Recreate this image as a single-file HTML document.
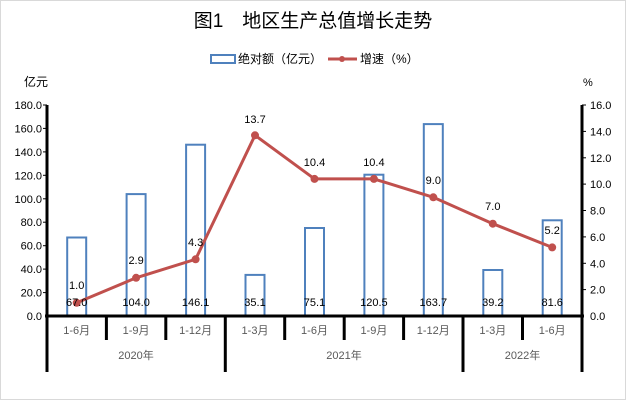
<!DOCTYPE html>
<html><head><meta charset="utf-8"><style>
body{margin:0;background:#fff}
svg{display:block}
text{font-family:"Liberation Sans","Noto Sans CJK SC",sans-serif}
</style></head><body>
<svg width="626" height="400" viewBox="0 0 626 400">
<rect x="0.5" y="0.5" width="625" height="399" fill="#fff" stroke="#d9d9d9"/>
<text x="313" y="27" font-size="19" text-anchor="middle" font-family="'Noto Serif CJK SC',serif" fill="#000">图1　地区生产总值增长走势</text>
<rect x="211" y="55" width="24" height="8" fill="none" stroke="#4f81bd" stroke-width="2"/>
<text x="238" y="63" font-size="12" fill="#000">绝对额（亿元）</text>
<line x1="328" y1="59" x2="357" y2="59" stroke="#c0504d" stroke-width="3"/>
<circle cx="342" cy="59" r="3" fill="#c0504d"/>
<text x="360" y="63" font-size="12" fill="#000">增速（%）</text>
<text x="24" y="86" font-size="12">亿元</text>
<text x="583" y="86" font-size="11">%</text>
<g font-size="11" text-anchor="end" fill="#000">
<text x="42" y="320">0.0</text><text x="42" y="296.6">20.0</text><text x="42" y="273.1">40.0</text><text x="42" y="249.7">60.0</text><text x="42" y="226.2">80.0</text><text x="42" y="202.8">100.0</text><text x="42" y="179.3">120.0</text><text x="42" y="155.9">140.0</text><text x="42" y="132.4">160.0</text><text x="42" y="109">180.0</text>
</g>
<g font-size="11" fill="#000">
<text x="590" y="320">0.0</text><text x="590" y="293.6">2.0</text><text x="590" y="267.3">4.0</text><text x="590" y="240.9">6.0</text><text x="590" y="214.5">8.0</text><text x="590" y="188.1">10.0</text><text x="590" y="161.8">12.0</text><text x="590" y="135.4">14.0</text><text x="590" y="109">16.0</text>
</g>
<g stroke="#000" stroke-width="1">
<line x1="43" y1="105" x2="47" y2="105"/><line x1="43" y1="128.4" x2="47" y2="128.4"/><line x1="43" y1="151.9" x2="47" y2="151.9"/><line x1="43" y1="175.3" x2="47" y2="175.3"/><line x1="43" y1="198.8" x2="47" y2="198.8"/><line x1="43" y1="222.2" x2="47" y2="222.2"/><line x1="43" y1="245.7" x2="47" y2="245.7"/><line x1="43" y1="269.1" x2="47" y2="269.1"/><line x1="43" y1="292.6" x2="47" y2="292.6"/>
<line x1="582" y1="105" x2="586" y2="105"/><line x1="582" y1="131.4" x2="586" y2="131.4"/><line x1="582" y1="157.8" x2="586" y2="157.8"/><line x1="582" y1="184.1" x2="586" y2="184.1"/><line x1="582" y1="210.5" x2="586" y2="210.5"/><line x1="582" y1="236.9" x2="586" y2="236.9"/><line x1="582" y1="263.3" x2="586" y2="263.3"/><line x1="582" y1="289.6" x2="586" y2="289.6"/>
</g>
<g fill="none" stroke="#4f81bd" stroke-width="2">
<rect x="67.2" y="237.5" width="19" height="78.5"/>
<rect x="126.6" y="194.1" width="19" height="121.9"/>
<rect x="186.1" y="144.7" width="19" height="171.3"/>
<rect x="245.5" y="274.9" width="19" height="41.1"/>
<rect x="305" y="228" width="19" height="88"/>
<rect x="364.4" y="174.7" width="19" height="141.3"/>
<rect x="423.8" y="124.1" width="19" height="191.9"/>
<rect x="483.3" y="270" width="19" height="46"/>
<rect x="542.7" y="220.3" width="19" height="95.7"/>
</g>
<g stroke="#000" stroke-width="3" fill="none">
<line x1="47" y1="105" x2="47" y2="372"/>
<line x1="582" y1="105" x2="582" y2="372"/>
<line x1="45" y1="316" x2="584" y2="316"/>
<line x1="106.4" y1="316" x2="106.4" y2="340"/><line x1="165.8" y1="316" x2="165.8" y2="340"/>
<line x1="225.3" y1="316" x2="225.3" y2="372"/>
<line x1="284.7" y1="316" x2="284.7" y2="340"/><line x1="344.2" y1="316" x2="344.2" y2="340"/><line x1="403.6" y1="316" x2="403.6" y2="340"/>
<line x1="463" y1="316" x2="463" y2="372"/>
<line x1="522.5" y1="316" x2="522.5" y2="340"/>
</g>
<polyline points="76.7,302.8 136.1,277.8 195.6,259.3 255,135.3 314.5,178.9 373.9,178.9 433.3,197.3 492.8,223.7 552.2,247.4" fill="none" stroke="#c0504d" stroke-width="3"/>
<g fill="#c0504d">
<circle cx="76.7" cy="302.8" r="4"/><circle cx="136.1" cy="277.8" r="4"/><circle cx="195.6" cy="259.3" r="4"/><circle cx="255" cy="135.3" r="4"/><circle cx="314.5" cy="178.9" r="4"/><circle cx="373.9" cy="178.9" r="4"/><circle cx="433.3" cy="197.3" r="4"/><circle cx="492.8" cy="223.7" r="4"/><circle cx="552.2" cy="247.4" r="4"/>
</g>
<g font-size="11" text-anchor="middle" fill="#000">
<text x="76.7" y="306">67.0</text><text x="136.1" y="306">104.0</text><text x="195.6" y="306">146.1</text><text x="255" y="306">35.1</text><text x="314.5" y="306">75.1</text><text x="373.9" y="306">120.5</text><text x="433.3" y="306">163.7</text><text x="492.8" y="306">39.2</text><text x="552.2" y="306">81.6</text>
<text x="76.7" y="289">1.0</text><text x="136.1" y="264">2.9</text><text x="195.6" y="246">4.3</text><text x="255" y="123">13.7</text><text x="314.5" y="166">10.4</text><text x="373.9" y="166">10.4</text><text x="433.3" y="184">9.0</text><text x="492.8" y="210">7.0</text><text x="552.2" y="234">5.2</text>
</g>
<g font-size="11" text-anchor="middle" fill="#595959">
<text x="76.7" y="334">1-6月</text><text x="136.1" y="334">1-9月</text><text x="195.6" y="334">1-12月</text><text x="255" y="334">1-3月</text><text x="314.5" y="334">1-6月</text><text x="373.9" y="334">1-9月</text><text x="433.3" y="334">1-12月</text><text x="492.8" y="334">1-3月</text><text x="552.2" y="334">1-6月</text>
<text x="136" y="359">2020年</text><text x="344" y="359">2021年</text><text x="522.5" y="359">2022年</text>
</g>
</svg>
</body></html>
